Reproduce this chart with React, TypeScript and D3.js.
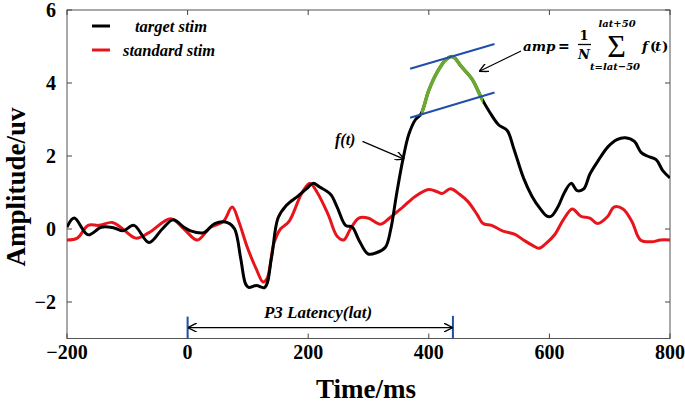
import React from "react";
import * as d3 from "d3";

const xTicks = [-200, 0, 200, 400, 600, 800];
const yTicks = [-2, 0, 2, 4, 6];

const blackTimes = [-200, -188, -165, -143, -122, -107, -89, -64, -42, -24, -6, 5, 27, 45, 67, 78, 88, 96, 101, 114, 128, 139, 150, 164, 183, 197, 208, 219, 237, 248, 262, 273, 284, 299, 313, 328, 337, 346, 357, 367, 378, 387, 400, 414, 429, 440, 454, 472, 487, 501, 516, 530, 541, 557, 571, 585, 596, 603, 614, 625, 636, 646, 657, 667, 680, 697, 712, 726, 741, 752, 762, 777, 788, 800];
const blackValues = [0.05, 0.3, -0.16, 0.05, 0.03, -0.05, 0.1, -0.37, 0.0, 0.25, 0.05, -0.05, -0.1, 0.15, 0.17, 0.0, -0.8, -1.5, -1.6, -1.55, -1.6, -0.8, 0.3, 0.65, 0.9, 1.1, 1.25, 1.15, 0.95, 0.6, 0.1, 0.05, -0.3, -0.68, -0.65, -0.5, 0.0, 0.9, 1.9, 2.6, 3.0, 3.15, 3.8, 4.3, 4.65, 4.72, 4.45, 4.1, 3.6, 3.2, 2.85, 2.7, 2.2, 1.4, 0.9, 0.55, 0.35, 0.35, 0.6, 1.0, 1.25, 1.05, 1.1, 1.5, 1.85, 2.25, 2.45, 2.5, 2.4, 2.1, 2.0, 1.9, 1.6, 1.4];

const redTimes = [-200, -183, -165, -147, -125, -111, -86, -64, -28, -6, 16, 38, 59, 74, 85, 99, 114, 125, 132, 143, 154, 168, 190, 203, 215, 233, 248, 259, 270, 284, 299, 320, 335, 357, 378, 400, 414, 422, 436, 451, 465, 480, 490, 504, 522, 543, 557, 572, 583, 594, 609, 623, 638, 652, 667, 680, 697, 707, 722, 737, 751, 770, 784, 800];
const redValues = [-0.3, -0.25, 0.1, 0.1, 0.18, 0.05, -0.25, -0.1, 0.28, 0.0, -0.3, 0.05, 0.2, 0.6, 0.2, -0.5, -1.1, -1.45, -1.35, -0.4, 0.0, 0.2, 1.0, 1.25, 1.0, 0.4, -0.2, -0.3, 0.0, 0.3, 0.3, 0.13, 0.3, 0.6, 0.9, 1.08, 1.02, 0.97, 1.1, 0.95, 0.75, 0.4, 0.15, 0.1, -0.05, -0.15, -0.3, -0.45, -0.53, -0.4, -0.15, 0.25, 0.55, 0.35, 0.3, 0.15, 0.35, 0.6, 0.55, 0.2, -0.3, -0.35, -0.3, -0.3];

const windowRange = [387, 490];
const upperBlue = [[369, 4.39], [509, 5.07]];
const lowerBlue = [[369, 3.05], [509, 3.74]];
const latency = 440;

const W = 685, H = 404;
const M = { left: 67, right: 670, top: 10, bottom: 338.5 };

export default function App() {
  const x = d3.scaleLinear().domain([-200, 800]).range([M.left, M.right]);
  const y = d3.scaleLinear().domain([-3, 6]).range([M.bottom, M.top]);
  const mk = (ts: number[], vs: number[]) =>
    d3
      .line<[number, number]>()
      .x((d) => x(d[0]))
      .y((d) => y(d[1]))
      .curve(d3.curveCatmullRom.alpha(0.5))(ts.map((t, i) => [t, vs[i]] as [number, number])) || "";
  const blackPath = mk(blackTimes, blackValues);
  const redPath = mk(redTimes, redValues);
  const tick = 5;
  const font = "'Liberation Serif', 'Times New Roman', serif";
  const latY = y(-2.7);
  const fmt = (t: number) => (t < 0 ? "\u2212" + Math.abs(t) : String(t));
  return (
    <svg width={W} height={H} style={{ position: "absolute", left: 0, top: 0, background: "#fff" }} fontFamily={font}>
      <defs>
        <clipPath id="plot">
          <rect x={M.left} y={M.top} width={M.right - M.left} height={M.bottom - M.top} />
        </clipPath>
        <clipPath id="win">
          <rect x={x(windowRange[0])} y={M.top} width={x(windowRange[1]) - x(windowRange[0])} height={M.bottom - M.top} />
        </clipPath>
        <marker id="ah" viewBox="0 0 10 10" refX="9" refY="5" markerWidth="9" markerHeight="9" orient="auto-start-reverse" markerUnits="userSpaceOnUse">
          <path d="M0,0 L10,5 L0,10" fill="none" stroke="#000" strokeWidth={1.5} />
        </marker>
      </defs>
      {/* axes box */}
      <rect x={M.left} y={M.top} width={M.right - M.left} height={M.bottom - M.top} fill="none" stroke="#555" strokeWidth={1} />
      {xTicks.map((t) => (
        <g key={"x" + t}>
          <line x1={x(t)} x2={x(t)} y1={M.bottom} y2={M.bottom - tick} stroke="#444" />
          <line x1={x(t)} x2={x(t)} y1={M.top} y2={M.top + tick} stroke="#444" />
          <text x={x(t)} y={M.bottom + 20.5} textAnchor="middle" fontSize={20} fontWeight="bold">
            {fmt(t)}
          </text>
        </g>
      ))}
      {yTicks.map((t) => (
        <g key={"y" + t}>
          <line x1={M.left} x2={M.left + tick} y1={y(t)} y2={y(t)} stroke="#444" />
          <line x1={M.right} x2={M.right - tick} y1={y(t)} y2={y(t)} stroke="#444" />
          <text x={M.left - 11} y={y(t) + 7} textAnchor="end" fontSize={20} fontWeight="bold">
            {fmt(t)}
          </text>
        </g>
      ))}
      <text x={366} y={398} textAnchor="middle" fontSize={27} fontWeight="bold">
        Time/ms
      </text>
      <text transform={`translate(25,${187}) rotate(-90)`} textAnchor="middle" fontSize={27} fontWeight="bold">
        Amplitude/uv
      </text>
      {/* data */}
      <g clipPath="url(#plot)">
        <path d={redPath} fill="none" stroke="#e8141c" strokeWidth={3} strokeLinejoin="round" />
        <path d={blackPath} fill="none" stroke="#000" strokeWidth={3} strokeLinejoin="round" />
        <g clipPath="url(#win)">
          <path d={blackPath} fill="none" stroke="#6aaa2e" strokeWidth={3.5} strokeLinejoin="round" />
        </g>
      </g>
      {/* blue tangent lines */}
      {[upperBlue, lowerBlue].map((seg, i) => (
        <line key={i} x1={x(seg[0][0])} y1={y(seg[0][1])} x2={x(seg[1][0])} y2={y(seg[1][1])} stroke="#1f4fa8" strokeWidth={2} />
      ))}
      {/* latency */}
      <line x1={x(0)} x2={x(0)} y1={y(-2.4)} y2={M.bottom} stroke="#1f4fa8" strokeWidth={2} />
      <line x1={x(latency)} x2={x(latency)} y1={y(-2.38)} y2={M.bottom} stroke="#1f4fa8" strokeWidth={2} />
      <line x1={x(0) + 1} x2={x(latency) - 1} y1={latY} y2={latY} stroke="#000" strokeWidth={1.2} markerStart="url(#ah)" markerEnd="url(#ah)" />
      <text x={318} y={318} textAnchor="middle" fontSize={17} fontWeight="bold" fontStyle="italic">
        P3 Latency(lat)
      </text>
      {/* f(t) annotation */}
      <text x={335} y={145} fontSize={16} fontWeight="bold" fontStyle="italic">
        f(t)
      </text>
      <line x1={x(290)} y1={y(2.4)} x2={x(358)} y2={y(1.92)} stroke="#000" strokeWidth={1.2} markerEnd="url(#ah)" />
      {/* amp formula */}
      <line x1={521} y1={51} x2={480} y2={71} stroke="#000" strokeWidth={1.2} markerEnd="url(#ah)" />
      <g fontWeight="bold" fontStyle="italic" fontFamily="'DejaVu Serif', serif">
        <text x={523} y={51} fontSize={13.5}>amp</text>
        <text x={558} y={51} fontSize={14} fontStyle="normal">=</text>
        <text x={584} y={40} fontSize={13} textAnchor="middle" fontStyle="normal">1</text>
        <line x1={578} x2={591} y1={44.5} y2={44.5} stroke="#000" strokeWidth={1.3} />
        <text x={584} y={59} fontSize={13} textAnchor="middle">N</text>
        <text x={617} y={26.5} fontSize={10} textAnchor="middle">lat+50</text>
        <text x={616.5} y={56.5} fontSize={32} textAnchor="middle" fontStyle="normal" fontWeight="normal" fontFamily="'Liberation Serif', serif">Σ</text>
        <text x={615} y={70} fontSize={10} textAnchor="middle">t=lat−50</text>
        <text x={642} y={51} fontSize={13.5}>f</text>
        <text x={650} y={51} fontSize={13.5} fontStyle="normal">(</text>
        <text x={655} y={51} fontSize={13.5}>t</text>
        <text x={662} y={51} fontSize={13.5} fontStyle="normal">)</text>
      </g>
      {/* legend */}
      <line x1={92} x2={110} y1={26} y2={26} stroke="#000" strokeWidth={3} />
      <text x={135} y={31.5} fontSize={16.5} fontWeight="bold" fontStyle="italic">target stim</text>
      <line x1={92} x2={110} y1={50} y2={50} stroke="#e8141c" strokeWidth={3} />
      <text x={123} y={55.5} fontSize={16.5} fontWeight="bold" fontStyle="italic">standard stim</text>
    </svg>
  );
}
